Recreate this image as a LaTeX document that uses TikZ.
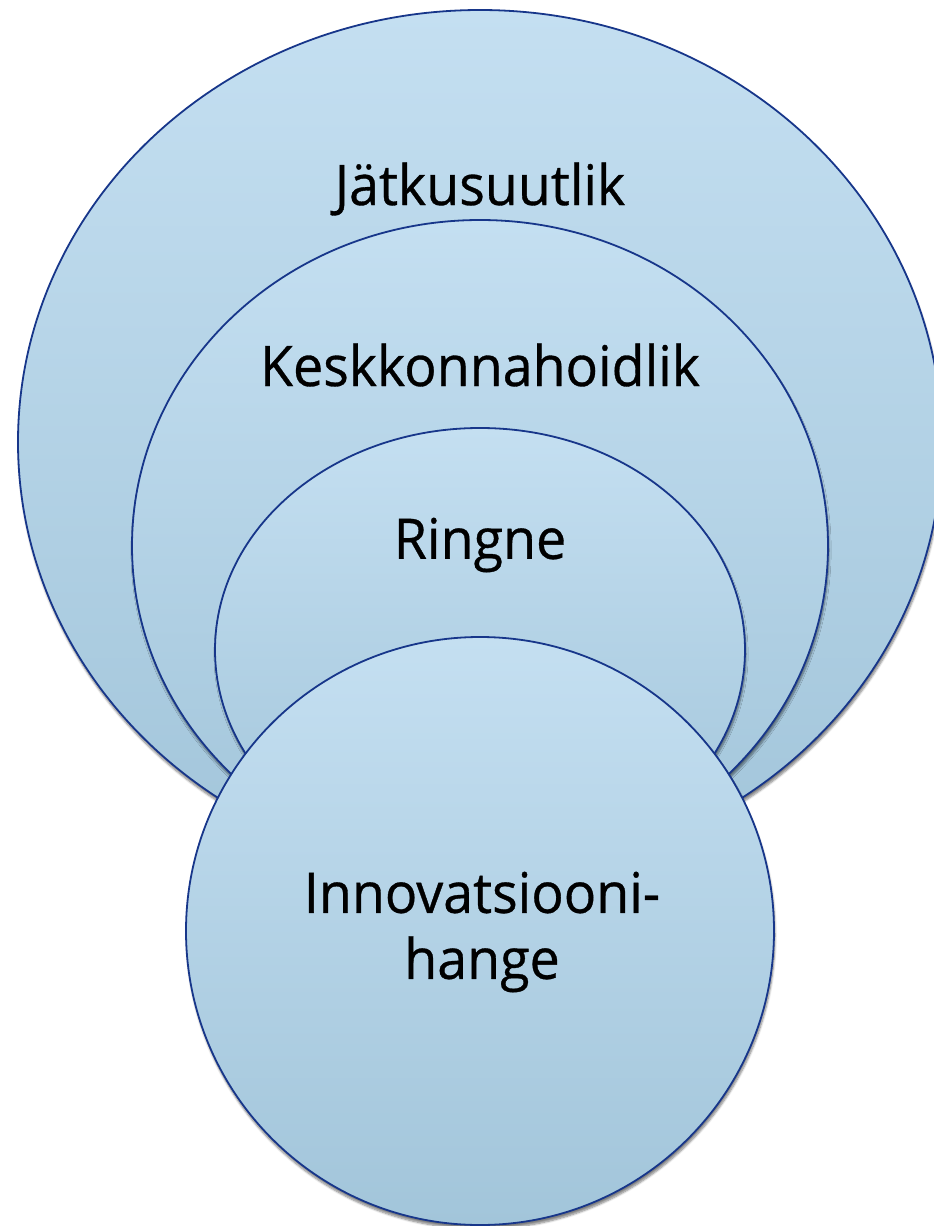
\documentclass[tikz,border=0pt]{standalone}
\usepackage{fontspec}
\setmainfont{Open Sans}[FakeStretch=0.96, FakeBold=0.6]
\usetikzlibrary{shapes.geometric,shadows.blur}

\definecolor{ringtop}{HTML}{C4DFF1}
\definecolor{ringbot}{HTML}{A2C5DA}
\definecolor{ringline}{HTML}{17368A}

\begin{document}
\begin{tikzpicture}[x=1pt, y=-1pt, ring/.style={ellipse, inner sep=0pt, draw=ringline, line width=1.8pt, top color=ringtop, bottom color=ringbot, blur shadow={shadow xshift=1pt, shadow yshift=-4pt, shadow opacity=50, shadow blur steps=6}}, word/.style={font=\fontsize{56}{66}\selectfont, text=black, align=center}]

\useasboundingbox (0,0) rectangle (934,1226);

\node[ring, minimum width=924pt, minimum height=864pt] (jatk) at (480, 442) {}; 
\node[ring, minimum width=696pt, minimum height=652pt] (kesk) at (480, 546) {}; 
\node[ring, minimum width=530pt, minimum height=444pt] (ringne) at (480, 650) {}; 
\node[ring, circle, minimum size=588pt] (hange) at (480, 931) {}; 

\node[word] (jatktxt) at (480, 189) {Jätkusuutlik}; 
\node[word] (kesktxt) at (480, 365) {Keskkonnahoidlik}; 
\node[word] (ringtxt) at (480, 545) {Ringne}; 
\node[word] (hangetxt) at (482, 932) {Innovatsiooni-\\hange}; 

\end{tikzpicture}
\end{document}
